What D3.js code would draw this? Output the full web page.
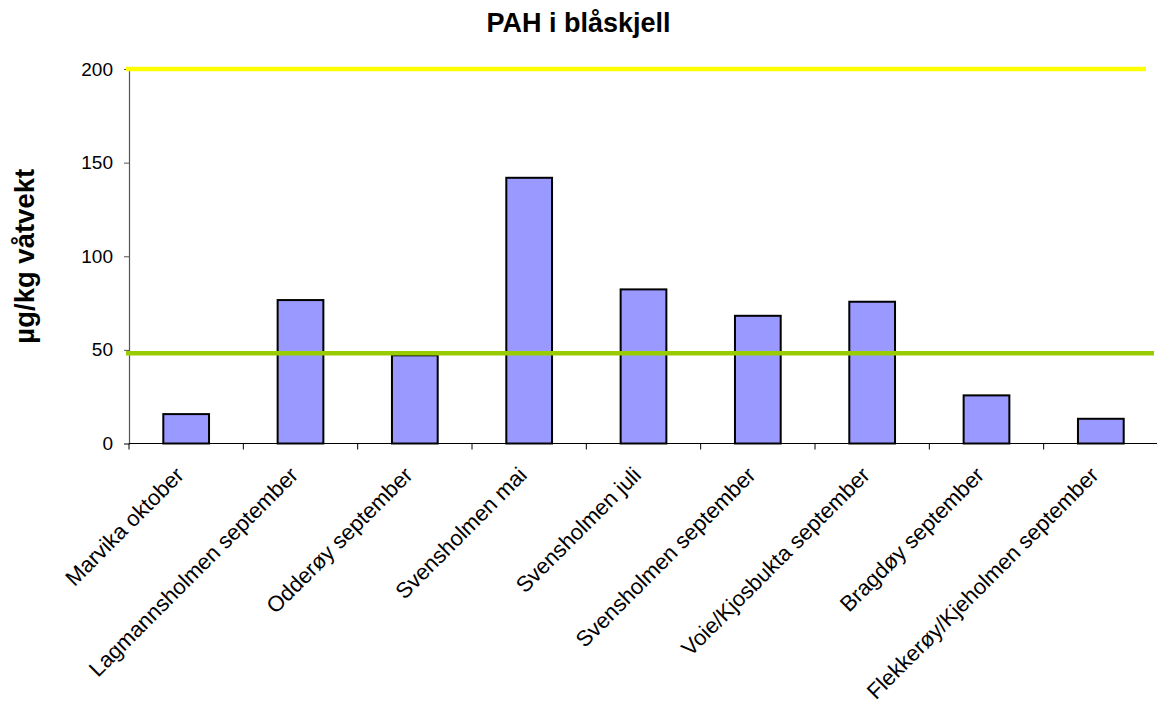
<!DOCTYPE html>
<html>
<head>
<meta charset="utf-8">
<script src="https://cdn.jsdelivr.net/npm/d3@7"></script>
<style>
  html, body { margin: 0; padding: 0; background: #fff; }
  svg { display: block; font-family: "Liberation Sans", Arial, sans-serif; }
</style>
</head>
<body>
<svg id="chart" width="1157" height="708"></svg>
<script>
const categories = [
  "Marvika oktober",
  "Lagmannsholmen september",
  "Odderøy september",
  "Svensholmen mai",
  "Svensholmen juli",
  "Svensholmen september",
  "Voie/Kjosbukta september",
  "Bragdøy september",
  "Flekkerøy/Kjeholmen september"
];
const values = [15.7, 76.6, 47.1, 141.9, 82.3, 68.2, 75.7, 25.7, 13.2];
const yTicks = [0, 50, 100, 150, 200];
const limitValues = [200, 48.2];
const limitColors = ["#ffff00", "#99cc00"];

const svg = d3.select("#chart");
const margin = { left: 129, right: 0, top: 69, bottom: 264 };
const W = 1158, H = 708;
const plotBottom = 443.5;

const x = d3.scaleBand().domain(categories).range([margin.left, W]).padding(0);
const y = d3.scaleLinear().domain([0, 200]).range([plotBottom, margin.top]);

// Title
svg.append("text")
  .attr("x", 1157 / 2).attr("y", 32)
  .attr("text-anchor", "middle")
  .attr("font-size", 27).attr("font-weight", "bold")
  .text("PAH i blåskjell");

// Y axis title
svg.append("text")
  .attr("transform", `translate(34, ${(margin.top + plotBottom) / 2}) rotate(-90)`)
  .attr("text-anchor", "middle")
  .attr("font-size", 27.5).attr("font-weight", "bold")
  .text("µg/kg våtvekt");

// Bars
const bw = x.bandwidth() * 0.4;
svg.append("g").selectAll("rect").data(values).join("rect")
  .attr("x", (d, i) => x(categories[i]) + (x.bandwidth() - bw) / 2)
  .attr("y", d => y(d))
  .attr("width", bw)
  .attr("height", d => y(0) - y(d))
  .attr("fill", "#9999ff")
  .attr("stroke", "#000")
  .attr("stroke-width", 2);

// Y axis
const yAxis = svg.append("g")
  .attr("transform", `translate(${margin.left},0)`)
  .call(d3.axisLeft(y).tickValues(yTicks).tickSize(5).tickPadding(11));
yAxis.select(".domain").attr("stroke", "#555").attr("stroke-width", 1.2);
yAxis.selectAll(".tick line").attr("stroke", "#555");
yAxis.selectAll(".tick text").attr("font-size", 19).attr("fill", "#000")
  .attr("font-family", "Liberation Sans, Arial, sans-serif");

// X axis
const xAxisG = svg.append("g").attr("transform", `translate(0,${plotBottom})`);
xAxisG.append("line")
  .attr("x1", margin.left).attr("x2", W)
  .attr("stroke", "#000").attr("stroke-width", 1.2);
const boundaries = categories.map(c => x(c)).concat([x(categories[categories.length - 1]) + x.bandwidth()]);
xAxisG.selectAll("line.tk").data(boundaries).join("line")
  .attr("class", "tk")
  .attr("x1", d => d).attr("x2", d => d)
  .attr("y1", 0).attr("y2", 6)
  .attr("stroke", "#000").attr("stroke-width", 1);

// Category labels
svg.append("g").selectAll("text").data(categories).join("text")
  .attr("transform", d => `translate(${x(d) + x.bandwidth() / 2 - 1}, ${plotBottom + 33}) rotate(-45)`)
  .attr("text-anchor", "end")
  .attr("font-size", 22)
  .text(d => d);

// Limit lines
svg.append("g").selectAll("line").data(limitValues).join("line")
  .attr("x1", margin.left - 3)
  .attr("x2", (d, i) => i === 0 ? W - 12 : W - 4)
  .attr("y1", d => y(d)).attr("y2", d => y(d))
  .attr("stroke", (d, i) => limitColors[i])
  .attr("stroke-width", 4.5);
</script>
</body>
</html>
